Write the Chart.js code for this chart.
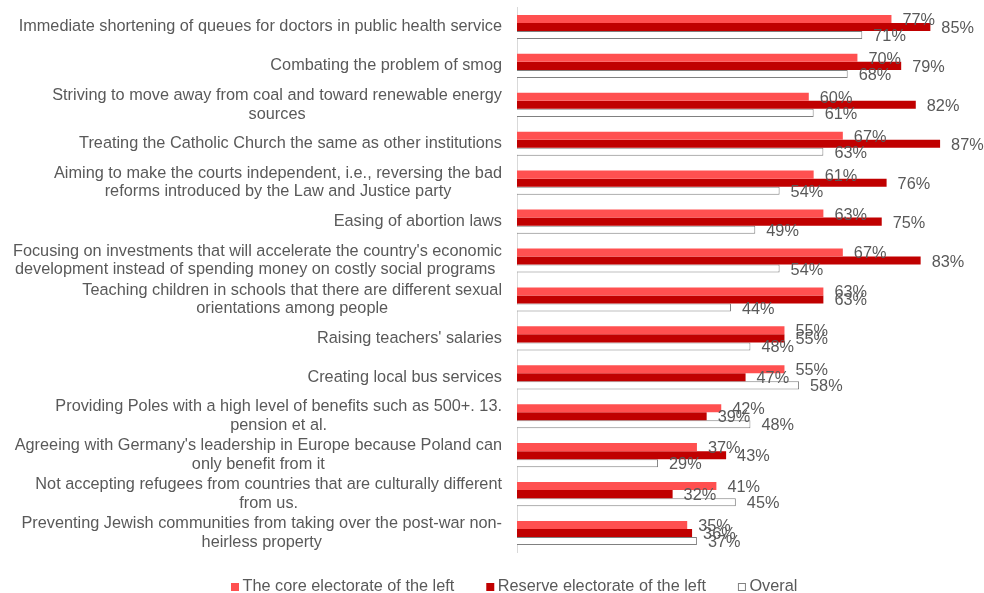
<!DOCTYPE html>
<html lang="en">
<head>
<meta charset="UTF-8">
<title>Expectations of the left-wing electorate</title>
<script src="https://cdn.jsdelivr.net/npm/chart.js@4.4.0/dist/chart.umd.min.js"></script>
<style>
  html, body { margin: 0; padding: 0; background: #fff; }
  #wrap { position: relative; width: 984px; height: 593px; }
</style>
</head>
<body>
<div id="wrap"><canvas id="postulates-chart"></canvas></div>
<script>
  // categories, one array of lines per row (top to bottom)
  const categories = [
    ['Immediate shortening of queues for doctors in public health service'],
    ['Combating the problem of smog'],
    ['Striving to move away from coal and toward renewable energy', 'sources'],
    ['Treating the Catholic Church the same as other institutions'],
    ['Aiming to make the courts independent, i.e., reversing the bad', 'reforms introduced by the Law and Justice party'],
    ['Easing of abortion laws'],
    ["Focusing on investments that will accelerate the country's economic", 'development instead of spending money on costly social programs '],
    ['Teaching children in schools that there are different sexual', 'orientations among people'],
    ["Raising teachers' salaries"],
    ['Creating local bus services'],
    ['Providing Poles with a high level of benefits such as 500+. 13.', 'pension et al.'],
    ["Agreeing with Germany's leadership in Europe because Poland can", 'only benefit from it'],
    ['Not accepting refugees from countries that are culturally different', 'from us.'],
    ['Preventing Jewish communities from taking over the post-war non-', 'heirless property']
  ];
  const coreLeft    = [77, 70, 60, 67, 61, 63, 67, 63, 55, 55, 42, 37, 41, 35];
  const reserveLeft = [85, 79, 82, 87, 76, 75, 83, 63, 55, 47, 39, 43, 32, 36];
  const overall     = [71, 68, 61, 63, 54, 49, 54, 44, 48, 58, 48, 29, 45, 37];
  const seriesNames = ['The core electorate of the left', 'Reserve electorate of the left', 'Overal'];

  const FONT = '16.3px "Liberation Sans", Arial, sans-serif';
  const TEXT_COLOR = '#595959';

  // row labels: right-aligned block, lines centred within the block
  const categoryLabels = {
    id: 'categoryLabels',
    afterDraw(chart) {
      const ctx = chart.ctx;
      const y = chart.scales.y;
      ctx.save();
      ctx.font = FONT;
      ctx.fillStyle = TEXT_COLOR;
      ctx.textAlign = 'center';
      ctx.textBaseline = 'middle';
      const rightEdge = y.right - 15;
      const lineH = 18.5;
      categories.forEach((lines, i) => {
        const cy = y.getPixelForValue(i);
        const widest = Math.max(...lines.map(l => ctx.measureText(l).width));
        const cx = rightEdge - widest / 2;
        lines.forEach((line, k) => {
          ctx.fillText(line, cx, cy + (k - (lines.length - 1) / 2) * lineH);
        });
      });
      ctx.restore();
    }
  };

  // percentage labels just past the end of each bar
  const valueLabels = {
    id: 'valueLabels',
    afterDatasetsDraw(chart) {
      const ctx = chart.ctx;
      ctx.save();
      ctx.font = FONT;
      ctx.fillStyle = TEXT_COLOR;
      ctx.textAlign = 'left';
      ctx.textBaseline = 'middle';
      chart.data.datasets.forEach((ds, di) => {
        chart.getDatasetMeta(di).data.forEach((bar, i) => {
          ctx.fillText(ds.data[i] + '%', bar.x + 11, bar.y + 1.5);
        });
      });
      ctx.restore();
    }
  };

  // legend row under the plot
  const bottomLegend = {
    id: 'bottomLegend',
    afterDraw(chart) {
      const ctx = chart.ctx;
      ctx.save();
      ctx.font = FONT;
      ctx.textBaseline = 'middle';
      ctx.textAlign = 'left';
      let x = 231;
      const cy = 587;
      chart.data.datasets.forEach(ds => {
        ctx.fillStyle = ds.backgroundColor;
        ctx.fillRect(x, cy - 4, 8, 8);
        if (ds.borderWidth) {
          ctx.strokeStyle = ds.borderColor;
          ctx.lineWidth = 1;
          ctx.strokeRect(x + 0.5, cy - 3.5, 7, 7);
        }
        ctx.fillStyle = TEXT_COLOR;
        ctx.fillText(ds.label, x + 11.5, cy - 0.5);
        x += 11.5 + ctx.measureText(ds.label).width + 32;
      });
      ctx.restore();
    }
  };

  const ctx = document.getElementById('postulates-chart').getContext('2d');
  const postulatesChart = new Chart(ctx, {
    type: 'bar',
    data: {
      labels: categories.map(c => c.join(' ')),
      datasets: [
        { label: seriesNames[0], data: coreLeft, backgroundColor: '#ff5050', borderWidth: 0 },
        { label: seriesNames[1], data: reserveLeft, backgroundColor: '#c00000', borderWidth: 0 },
        { label: seriesNames[2], data: overall, backgroundColor: '#ffffff', borderColor: '#808080', borderWidth: 1 }
      ]
    },
    options: {
      indexAxis: 'y',
      responsive: true,
      maintainAspectRatio: false,
      animation: false,
      datasets: {
        bar: { barPercentage: 1, categoryPercentage: 0.62 }
      },
      layout: { padding: { top: 7.5, bottom: 40.5, left: 0, right: 5 } },
      scales: {
        x: { display: false, min: 0, max: 95 },
        y: {
          ticks: { display: false },
          grid: { display: false },
          border: { display: true, color: '#d9d9d9' },
          afterFit: s => { s.width = 517; }
        }
      },
      plugins: {
        legend: { display: false },
        tooltip: { enabled: false }
      }
    },
    plugins: [categoryLabels, valueLabels, bottomLegend]
  });
</script>
</body>
</html>
